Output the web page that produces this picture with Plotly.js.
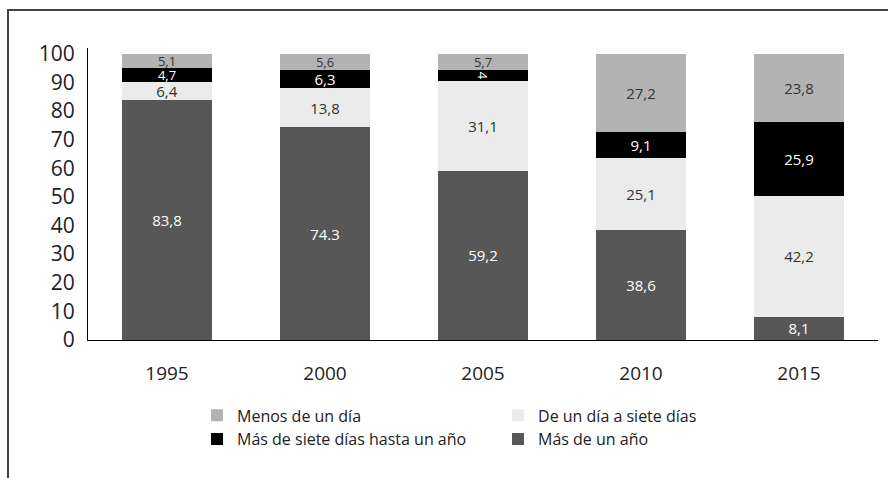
<!DOCTYPE html>
<html>
<head>
<meta charset="utf-8">
<script src="https://cdn.plot.ly/plotly-3.0.1.min.js"></script>
<style>
  body { margin: 0; background: #fff; }
  #frame { position: absolute; left: 7px; top: 9px; border-top: 2px solid #444; border-left: 2px solid #444; }
  #chart { width: 879px; height: 467px; }
</style>
</head>
<body>
<div id="frame"><div id="chart"></div></div>
<script>
var years = ['1995', '2000', '2005', '2010', '2015'];

// values per group, bottom to top of each bar
var masDeUnAno = [83.8, 74.3, 59.2, 38.6, 8.1];
var deUnDiaASiete = [6.4, 13.8, 31.1, 25.1, 42.2];
var masDeSieteDias = [4.7, 6.3, 4, 9.1, 25.9];
var menosDeUnDia = [5.1, 5.6, 5.7, 27.2, 23.8];

// labels as printed in the source (2000 uses a point)
var lblMasDeUnAno = ['83,8', '74.3', '59,2', '38,6', '8,1'];
var lblDeUnDia = ['6,4', '13,8', '31,1', '25,1', '42,2'];
var lblMasDeSiete = ['4,7', '6,3', '4', '9,1', '25,9'];
var lblMenos = ['5,1', '5,6', '5,7', '27,2', '23,8'];

var FONT = 'Open Sans, Noto Sans, sans-serif';

function seg(name, y, txt, color, txtColor, rank) {
  // thin segments get a slightly smaller label so they don't collide
  var sizes = y.map(function(v) { return v < 6 ? 13 : 15; });
  return {
    type: 'bar',
    name: name,
    x: years,
    y: y,
    text: txt,
    textposition: 'inside',
    insidetextanchor: 'middle',
    constraintext: 'none',
    textfont: {family: FONT, size: sizes, color: txtColor},
    marker: {color: color},
    legendrank: rank,
    hoverinfo: 'x+y+name'
  };
}

var data = [
  seg('Más de un año', masDeUnAno, lblMasDeUnAno, '#575757', '#ffffff', 4),
  seg('De un día a siete días', deUnDiaASiete, lblDeUnDia, '#ebebeb', '#333333', 2),
  seg('Más de siete días hasta un año', masDeSieteDias, lblMasDeSiete, '#000000', '#ffffff', 3),
  seg('Menos de un día', menosDeUnDia, lblMenos, '#b3b3b3', '#333333', 1)
];

var layout = {
  barmode: 'stack',
  bargap: 0.43,
  width: 879,
  height: 467,
  margin: {l: 79, r: 10, t: 37, b: 138},
  paper_bgcolor: '#ffffff',
  plot_bgcolor: '#ffffff',
  font: {family: FONT, color: '#222'},
  showlegend: true,
  xaxis: {
    showline: true,
    linecolor: '#000',
    linewidth: 1,
    ticks: '',
    ticklabelstandoff: 16,
    tickfont: {family: FONT, size: 19, color: '#222'}
  },
  yaxis: {
    range: [0, 102],
    tickvals: [0, 10, 20, 30, 40, 50, 60, 70, 80, 90, 100],
    showgrid: false,
    zeroline: false,
    showline: true,
    linecolor: '#000',
    linewidth: 1,
    ticks: '',
    ticklabelstandoff: 8,
    tickfont: {family: FONT, size: 21, color: '#222'}
  },
  legend: {
    orientation: 'h',
    x: 0.138,
    xanchor: 'left',
    y: -0.2,
    yanchor: 'top',
    entrywidth: 256,
    entrywidthmode: 'pixels',
    traceorder: 'normal',
    font: {family: FONT, size: 16, color: '#222'}
  }
};

Plotly.newPlot('chart', data, layout, {displayModeBar: false});
</script>
</body>
</html>
